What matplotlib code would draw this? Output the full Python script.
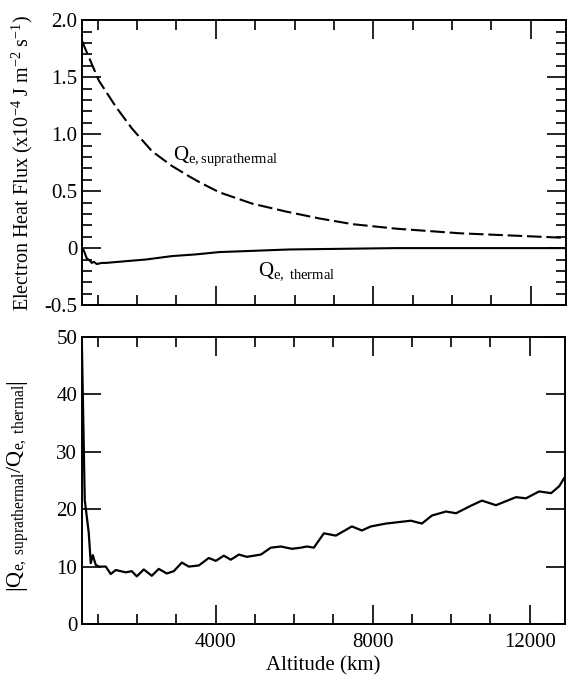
import matplotlib
matplotlib.use('Agg')
from matplotlib import pyplot as plt
from matplotlib.ticker import MultipleLocator

plt.rcParams.update({'font.family': 'Liberation Serif', 'font.size': 15,
                     'mathtext.fontset': 'custom',
                     'mathtext.rm': 'Liberation Serif',
                     'mathtext.it': 'Liberation Serif:italic'})

## Data
# suprathermal electron heat flux (x1e-4 J m^-2 s^-1), dashed curve
alt_supra = [600, 645, 1027, 1460, 1867, 2377, 2887, 3320, 3575, 4084,
             4925, 5791, 6632, 7473, 8594, 10199, 12874]
q_supra = [1.82, 1.78, 1.47, 1.24, 1.05, 0.85, 0.72, 0.63, 0.58, 0.49,
           0.39, 0.32, 0.26, 0.21, 0.17, 0.13, 0.09]

# thermal electron heat flux, solid curve
alt_therm = [600, 645, 721, 800, 848, 900, 976, 1100, 1205, 1536, 2224,
             2887, 3498, 4084, 5867, 8594, 12900]
q_therm = [0.0, -0.02, -0.09, -0.11, -0.13, -0.12, -0.14, -0.13, -0.13,
           -0.12, -0.10, -0.07, -0.055, -0.035, -0.012, 0.0, 0.0]

# |Q_supra / Q_thermal|
alt_ratio = [594, 670, 772, 823, 874, 950, 1027, 1205, 1332, 1460, 1715,
             1867, 1995, 2173, 2377, 2555, 2759, 2937, 3142, 3320, 3575,
             3829, 4008, 4211, 4390, 4594, 4798, 5155, 5409, 5664, 5944,
             6174, 6326, 6504, 6759, 7064, 7472, 7727, 7956, 8338, 8975,
             9255, 9510, 9870, 10125, 10530, 10785, 11140, 11650, 11905,
             12240, 12545, 12750, 12875]
ratio = [50, 21.6, 15.9, 10.6, 12.0, 10.3, 10.0, 10.0, 8.7, 9.4, 9.0,
         9.2, 8.3, 9.5, 8.4, 9.6, 8.8, 9.2, 10.7, 10.0, 10.2,
         11.5, 11.0, 11.9, 11.2, 12.1, 11.7, 12.1, 13.3, 13.5, 13.1,
         13.3, 13.5, 13.3, 15.8, 15.4, 17.0, 16.3, 17.0, 17.5, 18.0,
         17.5, 18.9, 19.6, 19.3, 20.7, 21.5, 20.7, 22.1, 21.9,
         23.1, 22.8, 24.0, 25.4]

x_range = (600, 12900)


def style_axes(ax):
    ax.tick_params(which='both', direction='in', top=True, right=True,
                   width=1.2)
    ax.tick_params(which='major', length=14)
    ax.tick_params(which='minor', length=7)
    ax.tick_params(axis='x', pad=6.5)
    for s in ax.spines.values():
        s.set_linewidth(1.4)


fig = plt.figure(figsize=(5.71, 6.75), dpi=100)

## top panel: heat fluxes
ax1 = fig.add_axes([0.1436, 0.548, 0.848, 0.4222])
ax1.plot(alt_supra, q_supra, 'k', lw=1.5, dashes=[7, 2.3])
ax1.plot(alt_therm, q_therm, 'k-', lw=1.5)
ax1.set_xlim(*x_range)
ax1.set_ylim(-0.5, 2.0)
ax1.xaxis.set_major_locator(MultipleLocator(4000))
ax1.xaxis.set_minor_locator(MultipleLocator(1000))
ax1.yaxis.set_minor_locator(MultipleLocator(0.1))
ax1.set_yticks([-0.5, 0, 0.5, 1.0, 1.5, 2.0])
ax1.set_yticklabels(['-0.5', '0', '0.5', '1.0', '1.5', '2.0'])
ax1.set_xticklabels([])
style_axes(ax1)
ax1.set_ylabel('Electron Heat Flux (x10$^{-4}$ J m$^{-2}$ s$^{-1}$)',
               fontsize=14.5)
ax1.yaxis.set_label_coords(-0.097, 0.5)
ax1.text(2912, 0.77, r'Q$_{\rm e,suprathermal}$', ha='left', va='baseline')
ax1.text(5077, -0.237, r'Q$_{\rm e,\ thermal}$', ha='left', va='baseline')

## bottom panel: ratio
ax2 = fig.add_axes([0.1436, 0.0756, 0.846, 0.425])
ax2.plot(alt_ratio, ratio, 'k-', lw=1.6)
ax2.set_xlim(*x_range)
ax2.set_ylim(0, 50)
ax2.xaxis.set_major_locator(MultipleLocator(4000))
ax2.xaxis.set_minor_locator(MultipleLocator(1000))
ax2.yaxis.set_major_locator(MultipleLocator(10))
style_axes(ax2)
ax2.set_xlabel('Altitude (km)', labelpad=3)
ax2.set_ylabel(r'$\left|\mathrm{Q_{e,\ suprathermal}/Q_{e,\ thermal}}\right|$',
               fontsize=16)
ax2.yaxis.set_label_coords(-0.105, 0.48)

fig.savefig('out.png', dpi=100)
